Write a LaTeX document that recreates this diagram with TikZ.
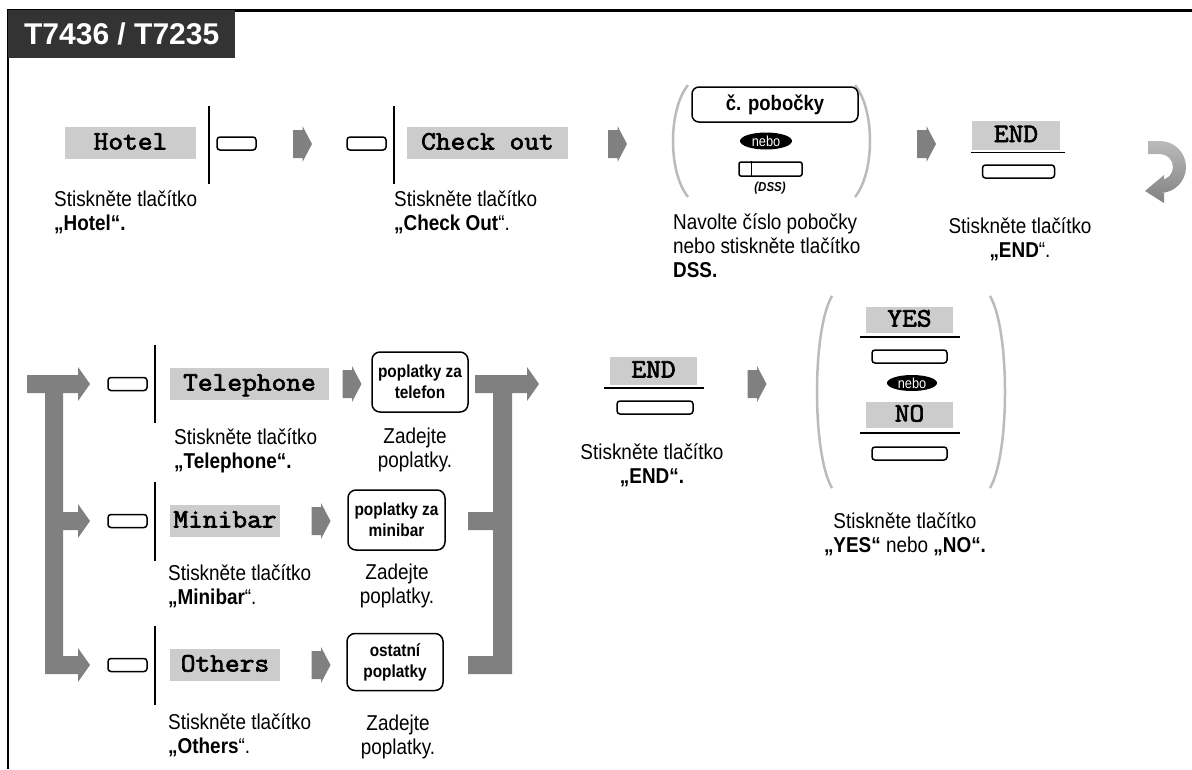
\documentclass[tikz,border=0pt]{standalone}
\usepackage{fontspec}
\setmainfont{Liberation Sans}
\newfontfamily\capfont[FakeStretch=0.88]{Liberation Sans}
\newfontfamily\lblfont[FakeBold=2.6,FakeStretch=1.08]{Latin Modern Mono}
\usetikzlibrary{shapes.geometric,calc}
\definecolor{lblgray}{HTML}{CCCCCC}
\definecolor{arrgray}{HTML}{808080}
\definecolor{pargray}{HTML}{BBBBBB}
\definecolor{ttlgray}{HTML}{333333}
\begin{document}
\begin{tikzpicture}[x=1pt,y=-1pt,
  btn/.style={draw, line width=1.5pt, rounded corners=3pt, minimum width=39pt, minimum height=13pt, inner sep=0pt},
  wbtn/.style={btn, minimum width=72pt},
  lbl/.style={fill=lblgray, font=\lblfont\fontsize{26.5}{26.5}\selectfont, inner sep=0pt, text height=15pt, text depth=2pt},
  steparrow/.pic={\fill[arrgray] (-9.5,-14) -- (0,-14) -- (0,-18) -- (9.5,0) -- (0,18) -- (0,14) -- (-9.5,14) -- cycle;},
  captxt/.style={font=\capfont\fontsize{21.5}{24}\selectfont, align=left, inner sep=0pt, anchor=north west},
  capctr/.style={font=\capfont\fontsize{21.5}{24}\selectfont, align=center, inner sep=0pt, anchor=north},
  vl/.style={line width=2pt},
  ul/.style={line width=1.2pt},
  paren/.style={draw=pargray, line width=2.5pt},
  nebo/.style={ellipse, fill=black, text=white, font=\capfont\fontsize{14.5}{14.5}\selectfont, minimum width=52pt, minimum height=17pt, inner sep=0pt},
  fee/.style={draw, line width=1.5pt, rounded corners=8pt, align=center, inner sep=0pt, font=\capfont\bfseries\fontsize{17.5}{21}\selectfont},
]
\useasboundingbox (0,0) rectangle (1192,769);
% frame
\draw[line width=3pt] (7,10) -- (1192,10);
\draw[line width=2.5pt] (8,10) -- (8,769);
\node[fill=ttlgray, text=white, font=\bfseries\fontsize{30}{30}\selectfont, minimum width=227pt, minimum height=48pt, inner sep=0pt, anchor=north west] (title) at (8,10) {T7436 / T7235};

% ---------- row 1 ----------
\node[lbl, minimum width=131pt, minimum height=32pt] (hotel) at (130.5,143) {Hotel};
\draw[vl] (209,106) -- (209,184);
\node[btn] (b1) at (236.5,143.5) {};
\coordinate (a1) at (302.5,144); \pic at (a1) {steparrow};
\node[btn] (b2) at (366.5,143.5) {};
\draw[vl] (394,106) -- (394,184);
\node[lbl, minimum width=161pt, minimum height=32pt] (chk) at (487.5,143) {Check out};
\coordinate (a2) at (617.5,144); \pic at (a2) {steparrow};
% parenthesis group
\draw[paren] (688,85) .. controls (668,110) and (668,172) .. (688,197);
\draw[paren] (855,85) .. controls (875,110) and (875,172) .. (855,197);
\node[draw, line width=1.5pt, rounded corners=7pt, minimum width=166pt, minimum height=35pt, inner sep=0pt, font=\capfont\bfseries\fontsize{21}{21}\selectfont] (ext) at (775,104.5) {č. pobočky};
\node[nebo] (or1) at (766,141) {nebo};
\node[draw, line width=1.5pt, rounded corners=2pt, minimum width=63pt, minimum height=14pt, inner sep=0pt] (dss) at (770.5,169) {};
\draw[line width=1.5pt] ([xshift=13pt]dss.north west) -- ([xshift=13pt]dss.south west);
\node[font=\capfont\bfseries\itshape\fontsize{13}{13}\selectfont, inner sep=0pt] (dsst) at (770,188) {(DSS)};
\coordinate (a3) at (926.5,144); \pic at (a3) {steparrow};
\node[lbl, minimum width=88pt, minimum height=29pt] (end1) at (1016,135.5) {END};
\draw[ul] (971,152.5) -- (1065,152.5);
\node[wbtn] (b3) at (1018.5,171.5) {};
% curved continuation arrow
\shade[top color=pargray, bottom color=arrgray]
  (1148,141) -- (1160,141) arc[start angle=-90, end angle=90, radius=26]
  -- (1164,193) -- (1164,203) -- (1145,191) -- (1164,175) -- (1164,180) -- (1160,180)
  arc[start angle=90, end angle=-90, radius=13] -- (1148,154) -- cycle;
% captions row 1
\node[captxt] (c1) at (54,190) {Stiskněte tlačítko\\\textbf{„Hotel“.}};
\node[captxt] (c2) at (394,190) {Stiskněte tlačítko\\\textbf{„Check Out}“.};
\node[captxt] (c3) at (673,213) {Navolte číslo pobočky\\nebo stiskněte tlačítko\\\textbf{DSS.}};
\node[capctr] (c4) at (1020,217) {Stiskněte tlačítko\\\textbf{„END}“.};

% ---------- row 2: left bracket ----------
\fill[arrgray] (27,375) -- (78,375) -- (78,367) -- (90,384) -- (78,401) -- (78,393) -- (63,393)
  -- (63,512) -- (78,512) -- (78,504) -- (90,521) -- (78,538) -- (78,530) -- (63,530)
  -- (63,656) -- (78,656) -- (78,648) -- (90,665) -- (78,682) -- (78,674) -- (45,674)
  -- (45,393) -- (27,393) -- cycle;
% Telephone
\node[btn] (bt) at (127.5,384) {};
\draw[vl] (155,345) -- (155,423);
\node[lbl, minimum width=159pt, minimum height=32pt] (tel) at (249.5,384) {Telephone};
\coordinate (at) at (352,384); \pic at (at) {steparrow};
\node[fee, minimum width=96pt, minimum height=60pt] (ft) at (420,382) {poplatky za\\telefon};
\node[captxt] (ct) at (174,428) {Stiskněte tlačítko\\\textbf{„Telephone“.}};
\node[capctr] (zt) at (415,428) {Zadejte\\poplatky.};
% Minibar
\node[btn] (bm) at (127.5,521) {};
\draw[vl] (155,482) -- (155,561);
\node[lbl, minimum width=110pt, minimum height=32pt] (mini) at (225,521) {Minibar};
\coordinate (am) at (321,521); \pic at (am) {steparrow};
\node[fee, minimum width=97pt, minimum height=60pt] (fm) at (396.5,520) {poplatky za\\minibar};
\node[captxt] (cm) at (168,564) {Stiskněte tlačítko\\\textbf{„Minibar}“.};
\node[capctr] (zm) at (397,564) {Zadejte\\poplatky.};
% Others
\node[btn] (bo) at (127.5,665) {};
\draw[vl] (155,626) -- (155,705);
\node[lbl, minimum width=110pt, minimum height=32pt] (oth) at (225,665) {Others};
\coordinate (ao) at (321,665); \pic at (ao) {steparrow};
\node[fee, minimum width=96pt, minimum height=57pt] (fo) at (395,662) {ostatní\\poplatky};
\node[captxt] (co) at (168,713) {Stiskněte tlačítko\\\textbf{„Others}“.};
\node[capctr] (zo) at (398,715) {Zadejte\\poplatky.};
% right bracket
\fill[arrgray] (475,375) -- (527,375) -- (527,367) -- (539,384) -- (527,401) -- (527,393) -- (512,393)
  -- (512,674) -- (468,674) -- (468,656) -- (493,656) -- (493,530) -- (468,530) -- (468,512)
  -- (493,512) -- (493,393) -- (475,393) -- cycle;
% END row 2
\node[lbl, minimum width=87pt, minimum height=28pt] (end2) at (653.5,371) {END};
\draw[ul] (604,388) -- (704,388);
\node[wbtn, minimum width=76pt] (b4) at (655,407.5) {};
\node[capctr] (c5) at (652,443) {Stiskněte tlačítko\\\textbf{„END“.}};
\coordinate (a5) at (757,384); \pic at (a5) {steparrow};
% YES / NO group
\draw[paren] (832,296) .. controls (812,330) and (812,454) .. (832,488);
\draw[paren] (990,296) .. controls (1010,330) and (1010,454) .. (990,488);
\node[lbl, minimum width=87pt, minimum height=26pt] (yes) at (909.5,320) {YES};
\draw[ul] (860,337) -- (960,337);
\node[wbtn, minimum width=75pt] (by) at (909.5,356.5) {};
\node[nebo, minimum width=50pt, minimum height=16pt] (or2) at (912,383) {nebo};
\node[lbl, minimum width=87pt, minimum height=26pt] (no) at (909.5,415) {NO};
\draw[ul] (860,433) -- (960,433);
\node[wbtn, minimum width=75pt] (bn) at (909.5,453.5) {};
\node[capctr] (c6) at (905,512) {Stiskněte tlačítko\\\textbf{„YES“} nebo \textbf{„NO“.}};
\end{tikzpicture}
\end{document}
